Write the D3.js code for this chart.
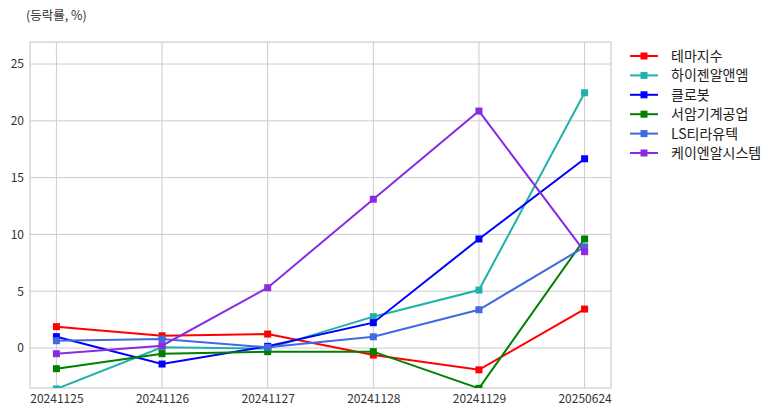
<!DOCTYPE html>
<html><head><meta charset="utf-8">
<script src="https://cdn.jsdelivr.net/npm/d3@7"></script>
<style>body{margin:0;background:#fff;} svg{display:block;}</style>
</head><body>
<script>
const categories = ["20241125","20241126","20241127","20241128","20241129","20250624"];
const seriesNames = ["테마지수","하이젠알앤엠","클로봇","서암기계공업","LS티라유텍","케이엔알시스템"];
const seriesColors = ["#ff0000","#20b2aa","#0000ff","#008000","#4169e1","#8a2be2"];
const themeIdx   = [1.88, 1.08, 1.23, -0.62, -1.92, 3.43];
const hygen      = [-3.6, 0.06, -0.05, 2.76, 5.1, 22.47];
const clobot     = [1.0, -1.41, 0.15, 2.23, 9.6, 16.66];
const seoam      = [-1.82, -0.5, -0.32, -0.32, -3.55, 9.6];
const lsTira     = [0.64, 0.79, 0.06, 0.99, 3.37, 8.9];
const knr        = [-0.5, 0.2, 5.31, 13.1, 20.86, 8.48];
const seriesValues = [themeIdx, hygen, clobot, seoam, lsTira, knr];
const yTicks = [0,5,10,15,20,25];
const yDomain = [-3.52, 26.94];
const unitLabel = "(등락률, %)";

const W = 782, H = 416;
const L = 30, R = 611, T = 42, B = 388;
const font = "'Noto Sans CJK KR','Noto Sans',sans-serif";
const svg = d3.select("body").append("svg").attr("width", W).attr("height", H);

const x = d3.scalePoint().domain(categories).range([L, R]).padding(0.25);
const y = d3.scaleLinear().domain(yDomain).range([B, T]);

// grid
const g = svg.append("g");
g.selectAll(".vg").data(categories).enter().append("line")
  .attr("x1", d => x(d)).attr("x2", d => x(d)).attr("y1", T).attr("y2", B)
  .attr("stroke", "#cccccc").attr("stroke-width", 1);
g.selectAll(".hg").data(yTicks).enter().append("line")
  .attr("x1", L).attr("x2", R).attr("y1", d => y(d)).attr("y2", d => y(d))
  .attr("stroke", "#cccccc").attr("stroke-width", 1);
svg.append("rect").attr("x", L).attr("y", T).attr("width", R - L).attr("height", B - T)
  .attr("fill", "none").attr("stroke", "#cccccc").attr("stroke-width", 1.2);

// axes
const xAxis = svg.append("g").attr("transform", `translate(0,${B})`)
  .call(d3.axisBottom(x).tickSize(0).tickPadding(6));
const yAxis = svg.append("g").attr("transform", `translate(${L},0)`)
  .call(d3.axisLeft(y).tickValues(yTicks).tickSize(0).tickPadding(6));
[xAxis, yAxis].forEach(a => {
  a.select(".domain").remove();
  a.selectAll("text").attr("font-family", font).attr("font-size", 12).attr("fill", "#333");
});

// clip
svg.append("defs").append("clipPath").attr("id", "clip")
  .append("rect").attr("x", L).attr("y", T).attr("width", R - L).attr("height", B - T);
const plot = svg.append("g").attr("clip-path", "url(#clip)");
const line = d3.line().x((d, i) => x(categories[i])).y(d => y(d));
seriesValues.forEach((vals, si) => {
  plot.append("path").datum(vals).attr("d", line).attr("fill", "none")
    .attr("stroke", seriesColors[si]).attr("stroke-width", 2);
  plot.selectAll(null).data(vals).enter().append("rect")
    .attr("x", (d, i) => x(categories[i]) - 3.5).attr("y", d => y(d) - 3.5)
    .attr("width", 7).attr("height", 7).attr("fill", seriesColors[si]);
});

// legend
const lg = svg.append("g");
seriesNames.forEach((n, i) => {
  const yy = 56 + i * 19.4;
  lg.append("line").attr("x1", 630).attr("x2", 658).attr("y1", yy).attr("y2", yy)
    .attr("stroke", seriesColors[i]).attr("stroke-width", 2);
  lg.append("rect").attr("x", 644 - 3.5).attr("y", yy - 3.5).attr("width", 7).attr("height", 7)
    .attr("fill", seriesColors[i]);
  lg.append("text").attr("x", 671).attr("y", yy).attr("dy", "0.35em")
    .attr("font-family", font).attr("font-size", 14).attr("fill", "#222").text(n);
});

svg.append("text").attr("x", 26).attr("y", 16).attr("dy", "0.35em")
  .attr("font-family", font).attr("font-size", 12.5).attr("fill", "#333").text(unitLabel);
</script>
</body></html>
